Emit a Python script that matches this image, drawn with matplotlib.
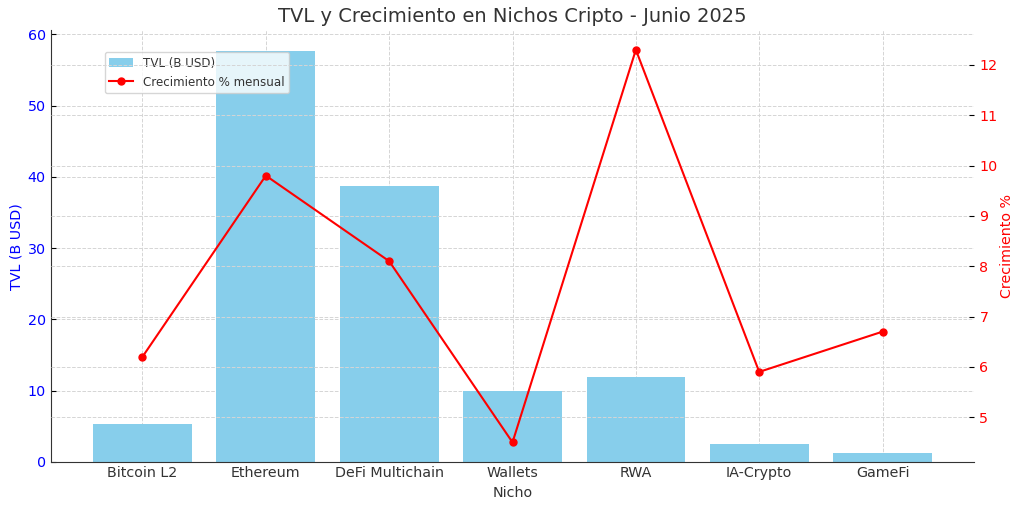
import matplotlib.pyplot as plt

nichos = ["Bitcoin L2", "Ethereum", "DeFi Multichain", "Wallets", "RWA", "IA-Crypto", "GameFi"]
tvl = [5.3, 57.7, 38.7, 10.0, 11.9, 2.5, 1.3]
crecimiento = [6.2, 9.8, 8.1, 4.5, 12.3, 5.9, 6.7]

FS = 10.3

fig = plt.figure(figsize=(10.24, 5.08), dpi=100)
ax1 = fig.add_axes([0.05, 0.0906, 0.901, 0.85])

bars = ax1.bar(nichos, tvl, color="#87CEEB", width=0.8, label="TVL (B USD)", zorder=2)
ax1.set_xlabel("Nicho", fontsize=FS, color="#333333", labelpad=4)
ax1.set_ylabel("TVL (B USD)", color="blue", fontsize=FS, labelpad=3)
ax1.tick_params(axis="y", labelcolor="blue", labelsize=FS, direction="in", pad=4)
ax1.tick_params(axis="x", labelsize=FS, labelcolor="#333333", direction="in", pad=3)
ax1.grid(True, linestyle="--", color="#d5d5d5", linewidth=0.7, zorder=0)
ax1.set_axisbelow(True)
for s in ["top", "right"]:
    ax1.spines[s].set_visible(False)
ax1.spines["left"].set_color("#333333")
ax1.spines["bottom"].set_color("#333333")

ax2 = ax1.twinx()
line, = ax2.plot(nichos, crecimiento, color="red", marker="o", markersize=5,
                 linewidth=1.5, label="Crecimiento % mensual")
ax2.set_ylabel("Crecimiento %", color="red", fontsize=FS, labelpad=2)
ax2.tick_params(axis="y", labelcolor="red", labelsize=FS, direction="in", pad=4)
ax2.grid(True, linestyle="--", color="#d5d5d5", linewidth=0.7)
for s in ["top", "right", "left", "bottom"]:
    ax2.spines[s].set_visible(False)

ax1.set_title("TVL y Crecimiento en Nichos Cripto - Junio 2025", fontsize=14,
              color="#333333")

ax1.legend([bars, line], ["TVL (B USD)", "Crecimiento % mensual"],
           loc="upper left", bbox_to_anchor=(0.058, 0.95), borderaxespad=0,
           fontsize=8.6, framealpha=0.8, labelcolor="#333333")

fig.savefig("out.png", dpi=100)
